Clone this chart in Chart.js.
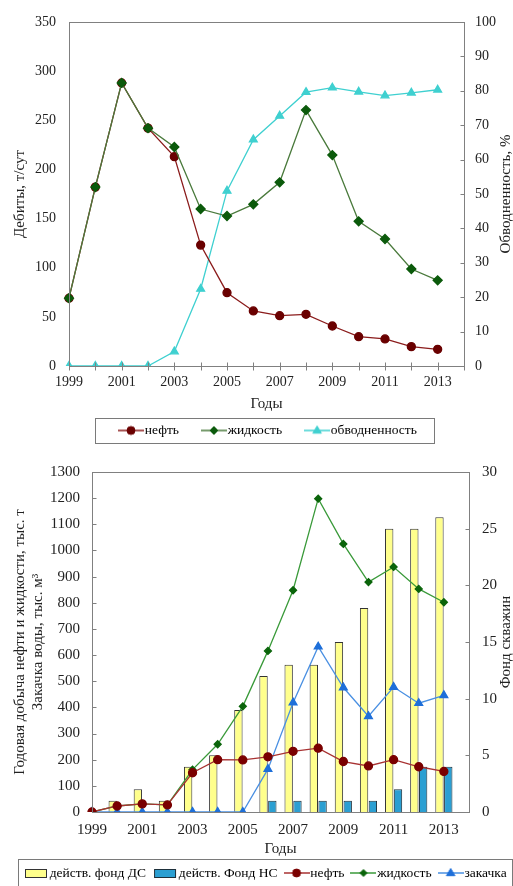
<!DOCTYPE html>
<html><head><meta charset="utf-8">
<script src="https://cdn.jsdelivr.net/npm/chart.js@4.4.1/dist/chart.umd.min.js"></script>
<style>
html,body{margin:0;padding:0;background:#fff;overflow:hidden;width:513px;height:886px;position:relative;}
#c1{position:absolute;left:0;top:0;}
#c2{position:absolute;left:0;top:450px;}
</style></head><body>
<canvas id="c1" width="513" height="470"></canvas>
<canvas id="c2" width="600" height="450"></canvas>
<script>
// ---------- data ----------
const years = ['1999','2000','2001','2002','2003','2004','2005','2006','2007','2008','2009','2010','2011','2012','2013','2014'];
const xTickLabels = ['1999','2001','2003','2005','2007','2009','2011','2013'];

// chart 1: дебиты
const rateOil    = [69, 182, 288, 242, 213, 123, 74.6, 56, 51.2, 52.6, 40.7, 29.8, 27.5, 19.7, 17];
const rateLiquid = [69, 182, 288, 242, 222.8, 159.7, 152.6, 164.5, 186.9, 260.4, 214.6, 147.2, 129.2, 98.7, 87.2];
const waterCut   = [0, 0, 0, 0, 4.2, 22.4, 50.9, 65.8, 72.7, 79.6, 80.9, 79.7, 78.6, 79.4, 80.3];

// chart 2: годовая добыча / фонд
const wellsDS    = [0, 1, 2, 1, 4, 5, 9, 12, 13, 13, 15, 18, 25, 25, 26];
const wellsNS    = [0, 0, 0, 0, 0, 0, 0, 1, 1, 1, 1, 1, 2, 4, 4];
const prodOil    = [0, 23, 31, 27, 150, 200, 199, 211, 232, 244, 193, 176, 200, 173, 155];
const prodLiquid = [0, 23, 31, 27, 162, 259, 404, 616, 848, 1198, 1025, 879, 937, 853, 802];
const injection  = [0, 0, 0, 0, 0, 0, 0, 164, 418, 632, 476, 366, 478, 416, 446];

// ---------- styling ----------
const FAM = "'Liberation Serif','Times New Roman',serif";
const TXT = '#222';
Chart.defaults.font.family = FAM;
Chart.defaults.color = TXT;

function drawMarker(g, style, x, y, r, color) {
  g.fillStyle = color; g.strokeStyle = color; g.lineWidth = 1;
  g.beginPath();
  if (style === 'circle') { g.arc(x, y, r, 0, Math.PI * 2); }
  else if (style === 'rectRot') { g.moveTo(x, y - r); g.lineTo(x + r, y); g.lineTo(x, y + r); g.lineTo(x - r, y); g.closePath(); }
  else if (style === 'triangle') { g.moveTo(x, y - r); g.lineTo(x + r * 0.95, y + r * 0.6); g.lineTo(x - r * 0.95, y + r * 0.6); g.closePath(); }
  g.fill(); g.stroke();
}
function lineIcon(lineColor, markColor, style, r) {
  const c = document.createElement('canvas'); c.width = 26; c.height = 12;
  const g = c.getContext('2d');
  g.strokeStyle = lineColor; g.lineWidth = 1.5;
  g.beginPath(); g.moveTo(0, 6); g.lineTo(26, 6); g.stroke();
  drawMarker(g, style, 13, 6, r, markColor);
  return c;
}
function barIcon(fill, stroke) {
  const c = document.createElement('canvas'); c.width = 24; c.height = 12;
  const g = c.getContext('2d');
  g.fillStyle = fill; g.fillRect(1.5, 2.5, 21, 8);
  g.strokeStyle = stroke; g.lineWidth = 1; g.strokeRect(1.5, 2.5, 21, 8);
  return c;
}

// ---------- plugins ----------
const placeLegend = {
  id: 'placeLegend',
  afterLayout(chart, args, opts) {
    const lg = chart.legend; if (!lg) return;
    const h = lg.bottom - lg.top;
    lg.left = opts.left; lg.right = 3000;
    lg.top = opts.top; lg.bottom = opts.top + h;
  },
  afterDraw(chart, args, opts) {
    const lg = chart.legend; if (!lg || !lg.legendHitBoxes || !lg.legendHitBoxes.length) return;
    const hb = lg.legendHitBoxes;
    const first = hb[0], last = hb[hb.length - 1];
    const x0 = Math.round(first.left - opts.padL) + 0.5;
    const x1 = Math.min(Math.round(last.left + last.width + opts.padR), opts.maxRight) + 0.5;
    const cy = first.top + first.height / 2;
    const y0 = Math.round(cy - opts.padY) + 0.5, y1 = Math.round(cy + opts.padY) + 0.5;
    const ctx = chart.ctx; ctx.save();
    ctx.strokeStyle = '#7a7a7a'; ctx.lineWidth = 1;
    ctx.strokeRect(x0, y0, x1 - x0, y1 - y0);
    ctx.restore();
  }
};
const frame = {
  id: 'frame',
  afterDatasetsDraw(chart, args, opts) {
    const ctx = chart.ctx, ca = chart.chartArea;
    ctx.save();
    ctx.strokeStyle = '#808080'; ctx.lineWidth = 1;
    const L = Math.round(ca.left) + 0.5, R = Math.round(ca.right) + 0.5, T = Math.round(ca.top) + 0.5, B = Math.round(ca.bottom) + 0.5;
    ctx.strokeRect(L, T, R - L, B - T);
    ctx.beginPath();
    (opts.ticks || []).forEach(t => {
      const s = chart.scales[t.id];
      s.ticks.forEach((tk, i) => {
        const p = Math.round(s.getPixelForTick(i)) + 0.5;
        if (t.side === 'left') { ctx.moveTo(L, p); ctx.lineTo(L + t.len, p); }
        else if (t.side === 'right') { ctx.moveTo(R, p); ctx.lineTo(R - t.len, p); }
        else if (t.side === 'bottom') { ctx.moveTo(p, B - t.len); ctx.lineTo(p, B + t.len); }
      });
    });
    ctx.stroke();
    ctx.restore();
  }
};
const rightTitle = {
  id: 'rightTitle',
  afterDraw(chart, args, opts) {
    const ctx = chart.ctx, ca = chart.chartArea;
    ctx.save();
    ctx.translate(opts.x, (ca.top + ca.bottom) / 2);
    ctx.rotate(-Math.PI / 2);
    ctx.font = opts.size + 'px ' + FAM;
    ctx.fillStyle = TXT; ctx.textAlign = 'center'; ctx.textBaseline = 'middle';
    ctx.fillText(opts.text, 0, 0);
    ctx.restore();
  }
};
function xTickCb(value, index) {
  const lab = years[index];
  return xTickLabels.includes(lab) ? lab : '';
}
const plainNum = v => String(v);

// ---------- chart 1 ----------
const c1Items = [
  { text: 'нефть', icon: lineIcon('#8b1c1c', '#6a0000', 'circle', 4) },
  { text: 'жидкость', icon: lineIcon('#4a7a3c', '#0b5a0b', 'rectRot', 4) },
  { text: 'обводненность', icon: lineIcon('#3fd0d0', '#3fd0d0', 'triangle', 4.5) }
];
new Chart(document.getElementById('c1'), {
  type: 'line',
  data: {
    labels: years,
    datasets: [
      { label: 'нефть', data: rateOil, yAxisID: 'y', borderColor: '#8b1c1c', backgroundColor: '#6a0000',
        pointBackgroundColor: '#6a0000', pointBorderColor: '#6a0000', pointStyle: 'circle', pointRadius: 4, borderWidth: 1.3, order: 2 },
      { label: 'жидкость', data: rateLiquid, yAxisID: 'y', borderColor: '#4a7a3c', backgroundColor: '#0b5a0b',
        pointBackgroundColor: '#0b5a0b', pointBorderColor: '#0b5a0b', pointStyle: 'rectRot', pointRadius: 4.5, borderWidth: 1.3, order: 1 },
      { label: 'обводненность', data: waterCut, yAxisID: 'y1', borderColor: '#3fd0d0', backgroundColor: '#3fd0d0',
        pointBackgroundColor: '#3fd0d0', pointBorderColor: '#3fd0d0', pointStyle: 'triangle', pointRadius: 4.5, borderWidth: 1.3, order: 3 }
    ]
  },
  options: {
    responsive: false, animation: false, events: [],
    layout: { padding: { top: 22, left: 0, right: 0, bottom: 2.5 } },
    scales: {
      x: { offset: false, grid: { display: false, drawTicks: false }, border: { display: false },
        ticks: { autoSkip: false, maxRotation: 0, padding: 8, font: { size: 14 }, color: TXT, callback: xTickCb },
        title: { display: true, text: 'Годы', font: { size: 15 }, color: TXT, padding: { top: 0, bottom: 3 } },
        afterFit: s => { s.height = 50; } },
      y: { position: 'left', min: 0, max: 350, grid: { display: false, drawTicks: false }, border: { display: false },
        ticks: { stepSize: 50, padding: 13, font: { size: 14 }, color: TXT, callback: plainNum },
        title: { display: true, text: 'Дебиты, т/сут', font: { size: 15 }, color: TXT, padding: { top: 11, bottom: 0 } },
        afterFit: s => { s.width = 69; } },
      y1: { position: 'right', min: 0, max: 100, grid: { display: false, drawTicks: false }, border: { display: false },
        ticks: { stepSize: 10, padding: 11, font: { size: 14 }, color: TXT, callback: plainNum },
        afterFit: s => { s.width = 49; } }
    },
    plugins: {
      tooltip: { enabled: false },
      legend: { position: 'bottom', align: 'start',
        labels: { usePointStyle: true, pointStyleWidth: 14, boxHeight: 14, padding: 28, font: { size: 13.5 }, color: TXT,
          generateLabels: () => c1Items.map((it, i) => ({ text: it.text, pointStyle: it.icon, fillStyle: 'rgba(0,0,0,0)', strokeStyle: 'rgba(0,0,0,0)', lineWidth: 0, hidden: false, datasetIndex: i })) } },
      placeLegend: { left: 96, top: 395.75, padL: 29, padR: 17, padY: 12.5, maxRight: 512 },
      frame: { ticks: [ { id: 'y1', side: 'right', len: 4 }, { id: 'x', side: 'bottom', len: 4 } ] },
      rightTitle: { text: 'Обводненность, %', x: 506, size: 15 }
    }
  },
  plugins: [placeLegend, frame, rightTitle]
});

// ---------- chart 2 ----------
const c2Items = [
  { text: 'действ. фонд ДС', icon: barIcon('#ffff8c', '#333') },
  { text: 'действ. Фонд НС', icon: barIcon('#2b9fd2', '#1d2f3a') },
  { text: 'нефть', icon: lineIcon('#a83232', '#7a0000', 'circle', 4) },
  { text: 'жидкость', icon: lineIcon('#3a9a3a', '#0a640a', 'rectRot', 3.5) },
  { text: 'закачка', icon: lineIcon('#4a90e2', '#1e6fd9', 'triangle', 4.5) }
];
new Chart(document.getElementById('c2'), {
  type: 'bar',
  data: {
    labels: years,
    datasets: [
      { type: 'bar', label: 'действ. фонд ДС', data: wellsDS, yAxisID: 'y1', backgroundColor: '#ffff8c', borderColor: '#333', borderWidth: 1,
        categoryPercentage: 0.7, barPercentage: 0.95, order: 10 },
      { type: 'bar', label: 'действ. Фонд НС', data: wellsNS, yAxisID: 'y1', backgroundColor: '#2b9fd2', borderColor: '#1d2f3a', borderWidth: 1,
        categoryPercentage: 0.7, barPercentage: 0.95, order: 11 },
      { type: 'line', label: 'нефть', data: prodOil, yAxisID: 'y', borderColor: '#a83232', backgroundColor: '#7a0000',
        pointBackgroundColor: '#7a0000', pointBorderColor: '#7a0000', pointStyle: 'circle', pointRadius: 4, borderWidth: 1.3, order: 1 },
      { type: 'line', label: 'жидкость', data: prodLiquid, yAxisID: 'y', borderColor: '#3a9a3a', backgroundColor: '#0a640a',
        pointBackgroundColor: '#0a640a', pointBorderColor: '#0a640a', pointStyle: 'rectRot', pointRadius: 3.5, borderWidth: 1.3, order: 2 },
      { type: 'line', label: 'закачка', data: injection, yAxisID: 'y', borderColor: '#4a90e2', backgroundColor: '#1e6fd9',
        pointBackgroundColor: '#1e6fd9', pointBorderColor: '#1e6fd9', pointStyle: 'triangle', pointRadius: 4.5, borderWidth: 1.3, order: 3 }
    ]
  },
  options: {
    responsive: false, animation: false, events: [],
    layout: { padding: { top: 19, left: 0, right: 0, bottom: 3.5 } },
    scales: {
      x: { offset: false, grid: { display: false, offset: false, drawTicks: false }, border: { display: false },
        ticks: { autoSkip: false, maxRotation: 0, padding: 9, font: { size: 15 }, color: TXT, callback: xTickCb },
        title: { display: true, text: 'Годы', font: { size: 15 }, color: TXT, padding: { top: 0, bottom: 3 } },
        afterFit: s => { s.height = 49; } },
      y: { position: 'left', min: 0, max: 1300, grid: { display: false, drawTicks: false }, border: { display: false },
        ticks: { stepSize: 100, padding: 12, font: { size: 15 }, color: TXT, callback: plainNum },
        title: { display: true, text: ['Годовая добыча нефти и жидкости, тыс. т', 'Закачка воды, тыс. м³'], font: { size: 15 }, color: TXT, padding: { top: 11, bottom: 0 } },
        afterFit: s => { s.width = 92; } },
      y1: { position: 'right', min: 0, max: 30, grid: { display: false, drawTicks: false }, border: { display: false },
        ticks: { stepSize: 5, padding: 13, font: { size: 15 }, color: TXT, callback: plainNum },
        afterFit: s => { s.width = 131; } }
    },
    plugins: {
      tooltip: { enabled: false },
      legend: { position: 'bottom', align: 'start',
        labels: { usePointStyle: true, pointStyleWidth: 14, boxHeight: 14, padding: 12, font: { size: 13.5 }, color: TXT,
          generateLabels: () => c2Items.map((it, i) => ({ text: it.text, pointStyle: it.icon, fillStyle: 'rgba(0,0,0,0)', strokeStyle: 'rgba(0,0,0,0)', lineWidth: 0, hidden: false, datasetIndex: i })) } },
      placeLegend: { left: 17, top: 404.25, padL: 11, padR: 200, padY: 14, maxRight: 512 },
      frame: { ticks: [ { id: 'y', side: 'left', len: 4 }, { id: 'y1', side: 'right', len: 4 } ] },
      rightTitle: { text: 'Фонд скважин', x: 506, size: 15 }
    }
  },
  plugins: [placeLegend, frame, rightTitle]
});
</script>
</body></html>
